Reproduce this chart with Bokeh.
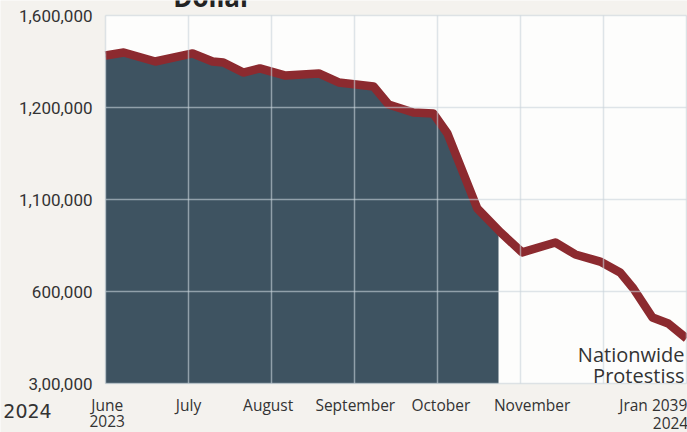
import numpy as np
from bokeh.plotting import figure
from bokeh.models import FixedTicker, Label, Range1d
from bokeh.embed import file_html
from bokeh.resources import INLINE

# months since June 2023 (x) and value in thousands (y)
month_pos = [0.0, 0.22, 0.60, 1.05, 1.29, 1.42, 1.66, 1.86, 2.17, 2.57, 2.81, 3.23, 3.41,
             3.71, 3.95, 4.12, 4.48, 4.76, 5.02, 5.42, 5.66, 5.96, 6.20, 6.36, 6.59, 6.78, 7.0]
value_k = [1426, 1439, 1400, 1435, 1400, 1396, 1352, 1370, 1339, 1348, 1309, 1291, 1213,
           1178, 1174, 1087, 761, 657, 570, 613, 561, 530, 483, 413, 287, 261, 196]
shade_end = 4.735

x_tick_pos = [0.02, 1, 1.96, 3.01, 4.04, 5.14, 6.60]
x_tick_labels = ["June", "July", "August", "September", "October", "November", "Jran 2039"]
y_tick_pos = [0, 400, 800, 1200, 1600]
y_tick_labels = ["3,00,000", "600,000", "1,100,000", "1,200,000", "1,600,000"]
grid_x = [0, 1, 2, 3, 4, 5, 6, 7]
x_bounds = (0, 7)
y_bounds = (0, 1600)

FONT = "Open Sans"
TXT = "#333333"
W, H = 687, 432
# plot-area placement on the canvas (pixels)
L, R, T, B = 105, 686, 15, 383
sx = (R - L) / (x_bounds[1] - x_bounds[0])
sy = (B - T) / (y_bounds[1] - y_bounds[0])
xr = Range1d(x_bounds[0] - L / sx, x_bounds[1] + (W - R) / sx)
yr = Range1d(y_bounds[0] - (H - B) / sy, y_bounds[1] + T / sy)

def py(v):
    # pixel row -> data y
    return y_bounds[0] + (B - v) / sy

def px(v):
    return x_bounds[0] + (v - L) / sx

p = figure(width=W, height=H, x_range=xr, y_range=yr, title=None,
           output_backend="svg", toolbar_location=None, min_border=0)
p.border_fill_color = "#f4f2ee"
p.background_fill_color = "#f4f2ee"
p.outline_line_color = None

# white plot area
p.quad(left=[x_bounds[0]], right=[x_bounds[1]], bottom=[y_bounds[0]], top=[y_bounds[1]],
       fill_color="#fdfdfc", line_color=None, level="underlay")

# shaded area up to shade_end
xs = [x for x in month_pos if x < shade_end] + [shade_end]
ys = list(np.interp(xs, month_pos, value_k))
p.varea(x=xs, y1=[y_bounds[0]] * len(xs), y2=ys, fill_color="#3e5361", level="underlay")

# grid drawn above the shade, below the line
for g in (p.xgrid, p.ygrid):
    g.level = "glyph"
    g.grid_line_color = "#c9d3da"
    g.grid_line_alpha = 0.6
    g.grid_line_width = 1.5
p.xgrid.ticker = FixedTicker(ticks=grid_x)
p.ygrid.ticker = FixedTicker(ticks=y_tick_pos)
p.xgrid.cross_bounds = y_bounds
p.ygrid.cross_bounds = x_bounds

p.line(month_pos, value_k, line_color="#8c2a2f", line_width=8.5, line_join="round")

# axes (fixed at the plot-area edges)
p.xaxis.fixed_location = y_bounds[0]
p.yaxis.fixed_location = x_bounds[0]
p.xaxis.bounds = x_bounds
p.yaxis.bounds = y_bounds
p.xaxis.ticker = FixedTicker(ticks=x_tick_pos)
p.xaxis.major_label_overrides = {t: l for t, l in zip(x_tick_pos, x_tick_labels)}
p.yaxis.ticker = FixedTicker(ticks=y_tick_pos)
p.yaxis.major_label_overrides = {t: l for t, l in zip(y_tick_pos, y_tick_labels)}
for ax in (p.xaxis, p.yaxis):
    ax.axis_line_color = None
    ax.major_tick_line_color = None
    ax.minor_tick_line_color = None
    ax.major_tick_in = 0
    ax.major_tick_out = 0
    ax.minor_tick_in = 0
    ax.minor_tick_out = 0
    ax.major_label_text_color = TXT
p.xaxis.major_label_text_font = FONT
p.xaxis.major_label_text_font_size = "15.5px"
p.xaxis.major_label_standoff = 10
p.yaxis.major_label_text_font = "Roboto"
p.yaxis.major_label_text_font_size = "17px"
p.yaxis.major_label_standoff = 13

# extra texts
p.add_layout(Label(x=0.02, y=py(420), text="2023", text_align="center", text_baseline="middle",
                   text_font=FONT, text_font_size="15.5px", text_color=TXT))
p.add_layout(Label(x=px(670), y=py(422), text="2024", text_align="center", text_baseline="middle",
                   text_font=FONT, text_font_size="15.5px", text_color=TXT))
p.add_layout(Label(x=px(27), y=py(410), text="2024", text_align="center", text_baseline="middle",
                   text_font="DejaVu Sans", text_font_size="19px", text_color=TXT))
p.add_layout(Label(x=px(684), y=py(389), text="Nationwide\nProtestiss", text_align="right",
                   text_baseline="bottom", text_font=FONT, text_font_size="20px",
                   text_color=TXT, text_line_height=0.78))
p.add_layout(Label(x=px(212), y=py(-4), text="Dollar", text_align="center",
                   text_baseline="alphabetic", text_font=FONT, text_font_size="26px",
                   text_font_style="bold", text_color="#222222"))

open("out.html", "w").write(file_html(p, INLINE))
